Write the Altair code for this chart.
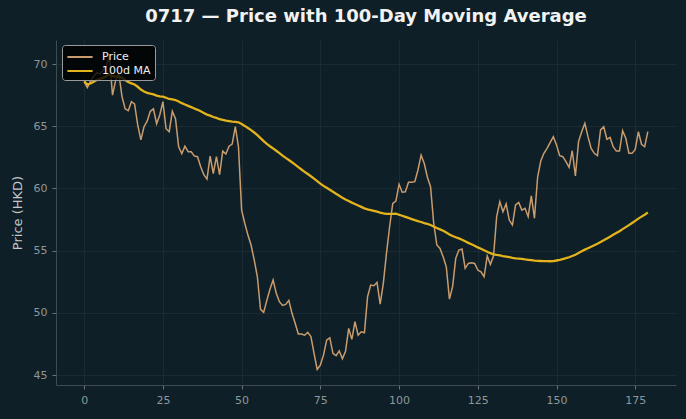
import altair as alt
import pandas as pd

# Daily closing prices (HKD), trading day index 0..179
price = [
    68.6, 68.1, 68.6, 69.0, 69.3, 69.2, 69.5, 69.8, 70.6, 67.5,
    68.7, 69.25, 67.4, 66.4, 66.25, 66.97, 66.8, 65.1, 63.9, 64.96,
    65.4, 66.2, 66.4, 65.2, 65.9, 66.97, 64.8, 64.56, 66.2, 65.6,
    63.35, 62.8, 63.4, 62.95, 62.95, 62.6, 62.55, 61.75, 61.1, 60.75,
    62.6, 61.2, 62.55, 61.1, 63.0, 62.77, 63.4, 63.57, 64.96, 63.35,
    58.26, 57.2, 56.25, 55.45, 54.25, 52.9, 50.28, 50.04, 51.0, 51.9,
    52.64, 51.57, 50.9, 50.6, 50.68, 51.0, 49.96, 49.16, 48.3, 48.3,
    48.2, 48.43, 48.1, 46.75, 45.45, 45.8, 46.6, 47.8, 48.0, 46.75,
    46.55, 46.95, 46.3, 46.9, 48.75, 47.87, 49.3, 48.2, 48.48, 48.4,
    51.3, 52.23, 52.18, 52.45, 50.7, 52.37, 54.78, 56.92, 58.8, 58.99,
    60.33, 59.7, 59.73, 60.49, 60.49, 60.54, 61.48, 62.68, 62.0, 60.9,
    60.14, 57.2, 55.45, 55.18, 54.5, 53.7, 51.1, 52.1, 54.38, 55.05,
    55.13, 53.58, 53.97, 54.03, 53.97, 53.44, 53.3, 52.9, 54.57, 53.9,
    54.57, 57.73, 58.93, 58.13, 58.75, 57.46, 57.06, 58.67, 58.88, 58.26,
    58.4, 57.73, 59.4, 57.6, 60.9, 62.2, 62.82, 63.22, 63.7, 64.16,
    63.5, 62.63, 62.55, 62.15, 61.7, 63.03, 61.0, 63.76, 64.56, 65.23,
    64.16, 63.22, 62.82, 62.63, 64.7, 64.96, 63.95, 64.1, 63.35, 63.0,
    63.0, 64.64, 64.03, 62.82, 62.82, 63.14, 64.56, 63.55, 63.35, 64.56,
]
days = list(range(len(price)))

x_ticks = [0, 25, 50, 75, 100, 125, 150, 175]
y_ticks = [45, 50, 55, 60, 65, 70]
series_names = ["Price", "100d MA"]
series_colors = ["#c99c6e", "#e2b31c"]

BG = "#0f1f27"
FONT = "DejaVu Sans"

df = pd.DataFrame({"day": days, "price": price})

x_enc = alt.X(
    "day:Q",
    scale=alt.Scale(domain=[-8.95, 187.95], nice=False, zero=False),
    axis=alt.Axis(values=x_ticks, title=None),
)
y_scale = alt.Scale(domain=[44.2, 71.93], nice=False, zero=False)
y_axis = alt.Axis(values=y_ticks, title="Price (HKD)")

color_enc = alt.Color(
    "series:N",
    scale=alt.Scale(domain=series_names, range=series_colors),
    legend=alt.Legend(
        title=None,
        orient="none",
        legendX=6,
        legendY=5,
        fillColor="rgba(0,0,0,0.8)",
        strokeColor="#9a9a9a",
        cornerRadius=3,
        padding=4,
        symbolType="M-1.8,0H1.8",
        symbolSize=196,
        symbolOffset=6,
        symbolStrokeWidth=2,
        labelOffset=14,
        labelColor="#eeeeee",
        labelFontSize=11,
        labelFont=FONT,
        rowPadding=1,
    ),
)

price_line = (
    alt.Chart(df)
    .transform_calculate(series="'Price'")
    .mark_line(strokeWidth=1.5)
    .encode(x=x_enc, y=alt.Y("price:Q", scale=y_scale, axis=y_axis), color=color_enc)
)

ma_line = (
    alt.Chart(df)
    .transform_window(ma="mean(price)", frame=[-99, 0], sort=[alt.SortField("day")])
    .transform_calculate(series="'100d MA'")
    .mark_line(strokeWidth=2.3)
    .encode(x=x_enc, y=alt.Y("ma:Q", scale=y_scale, axis=y_axis), color=color_enc)
)

chart = (
    alt.layer(price_line, ma_line)
    .properties(
        width=620,
        height=345,
        background=BG,
        padding={"left": 56, "top": 40, "right": 10, "bottom": 34},
        autosize=alt.AutoSizeParams(type="none"),
        title=alt.TitleParams(
            "0717 — Price with 100-Day Moving Average",
            anchor="middle",
            color="#f2f2f2",
            font=FONT,
            fontSize=18,
            fontWeight="bold",
            baseline="alphabetic",
            offset=16,
            dy=16,
        ),
    )
    .configure_view(strokeOpacity=0, fill=BG)
    .configure_axis(
        domainColor="#3f4b50",
        tickColor="#6a7478",
        tickSize=4,
        gridColor="#1c2b32",
        gridOpacity=1,
        labelColor="#8e979b",
        labelFont=FONT,
        labelFontSize=11,
        titleColor="#c3c7c9",
        titleFont=FONT,
        titleFontSize=13,
        titleFontWeight="normal",
    )
    .configure_axisX(labelPadding=5)
    .configure_axisY(labelPadding=5, titlePadding=9)
)

chart.save("out.html", embed_options={"renderer": "svg", "actions": False})
